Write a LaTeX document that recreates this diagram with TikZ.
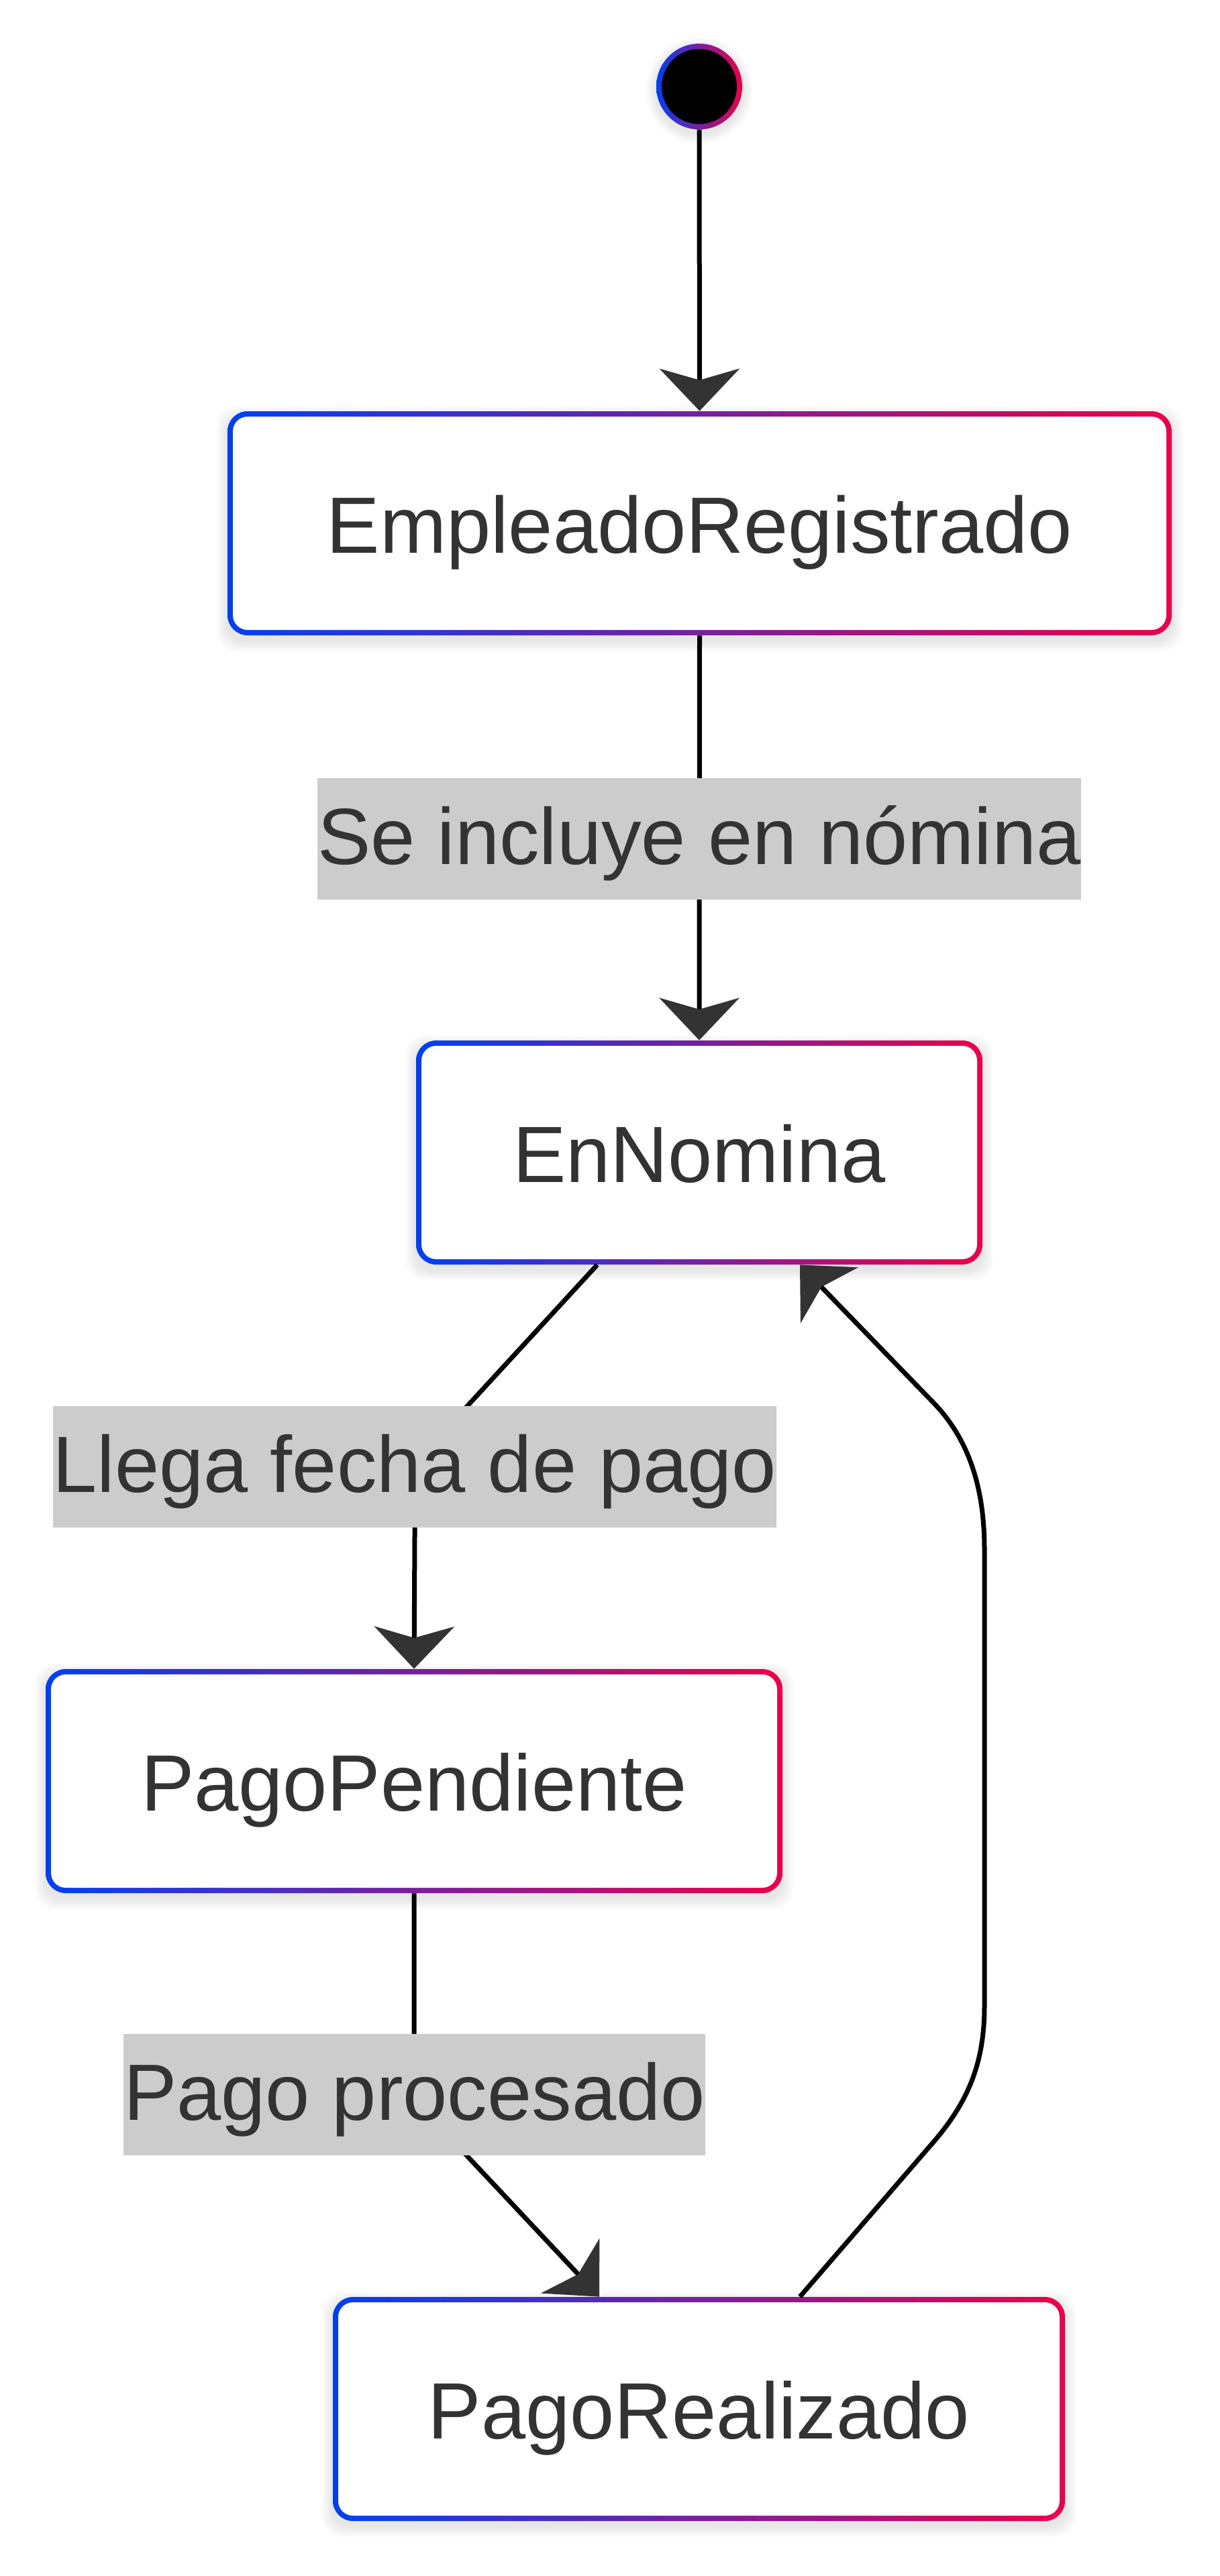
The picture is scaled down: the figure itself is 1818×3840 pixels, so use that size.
\documentclass[tikz,border=0pt]{standalone}
\usepackage{fontspec}
\setmainfont{Liberation Sans}
\usetikzlibrary{arrows.meta,calc,backgrounds}
\definecolor{cblue}{RGB}{0,64,245}
\definecolor{cred}{RGB}{238,0,72}
\definecolor{ctext}{HTML}{333333}
\definecolor{clabel}{HTML}{CCCCCC}
\newcommand{\dfont}{\fontsize{59.5pt}{71pt}\selectfont}
\begin{document}
\begin{tikzpicture}[x=0.5pt,y=-0.5pt,
  statebox/.style={rectangle, rounded corners=15pt, left color=cblue, right color=cred, draw=none,
    text=ctext, font=\dfont, inner sep=0pt, minimum height=167pt, text height=59.5pt, text depth=14.9pt,
    path picture={\fill[white, rounded corners=11pt] ([shift={(4pt,4pt)}]path picture bounding box.south west) rectangle ([shift={(-4pt,-4pt)}]path picture bounding box.north east);}},
  startnode/.style={circle, minimum size=64pt, inner sep=0pt, left color=cblue, right color=cred, draw=none,
    path picture={\fill[black] (path picture bounding box.center) circle (28pt);}},
  edgelabel/.style={fill=clabel, text=ctext, font=\dfont, inner xsep=0pt, inner ysep=0pt,
    minimum height=90.5pt, text height=53.5pt, text depth=14.9pt},
  transition/.style={line width=3.5pt, draw=black, -{Stealth[length=31.5pt, width=59.5pt, inset=8.5pt, color=ctext]}},
]
\useasboundingbox (0,0) rectangle (1818,3840);

\node[startnode] (s0) at (1042,129) {};
\node[statebox, minimum width=703.5pt] (er) at (1042.5,780) {EmpleadoRegistrado};
\node[statebox, minimum width=422pt] (en) at (1042,1718) {EnNomina};
\node[statebox, minimum width=549pt] (pp) at (617,2655) {PagoPendiente};
\node[statebox, minimum width=545.5pt] (pr) at (1041.5,3591) {PagoRealizado};

\begin{scope}[on background layer]
  \foreach \n in {er,en,pp,pr}{
    \foreach \i in {1,...,8}{
      \fill[black, opacity=0.012, rounded corners=15pt]
        ([shift={({-1pt*\i},{-1pt*\i-4pt})}]\n.south west) rectangle
        ([shift={({1pt*\i},{1pt*\i-4pt})}]\n.north east);
    }
  }
  \foreach \i in {1,...,8}{
    \fill[black, opacity=0.012] ([yshift=-3pt]s0.center) circle ({32pt+1pt*\i});
  }
\end{scope}

\draw[transition] (s0.south) -- (er.north);
\draw[transition] (er.south) -- (en.north);
\draw[transition] ([xshift=-76pt]en.south) -- (700,2092) .. controls (618,2180) .. (618,2290) -- (pp.north);
\draw[transition] (pp.south) -- (617,3030) .. controls (617,3130) .. (700,3218) -- ([xshift=-74.25pt]pr.north);
\draw[transition] ([xshift=75.25pt]pr.north) -- (1385,3200) .. controls (1440,3138) and (1467,3080) .. (1467,2990)
  -- (1467,2310) .. controls (1467,2220) and (1445,2148) .. (1393,2093) -- ([xshift=75pt]en.south);

\node[edgelabel] (l1) at (1042,1250) {Se incluye en nómina};
\node[edgelabel] (l2) at (618,2186) {Llega fecha de pago};
\node[edgelabel] (l3) at (617.5,3122) {Pago procesado};
\end{tikzpicture}
\end{document}
